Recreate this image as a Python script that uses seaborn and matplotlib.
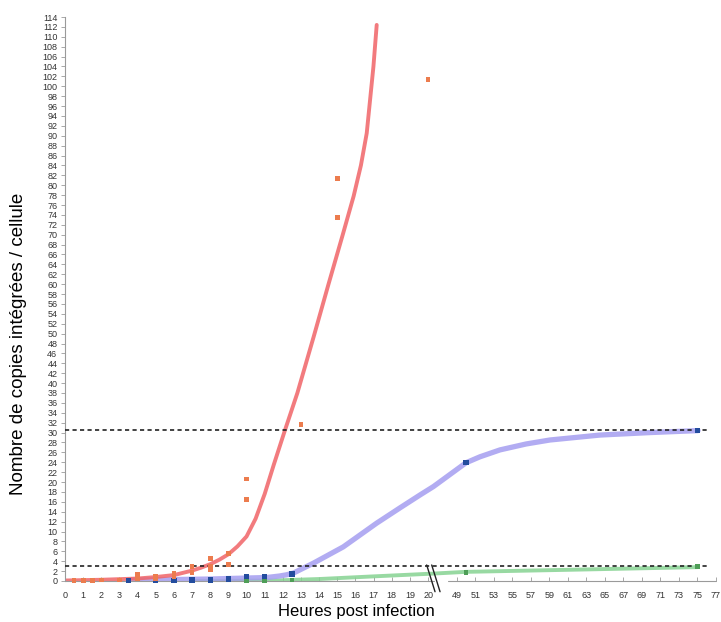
import numpy as np
import pandas as pd
import matplotlib
matplotlib.use("Agg")
import matplotlib.pyplot as plt
import seaborn as sns

# ---------------- data ----------------
orange_hours = [0.5, 1, 1.5, 2, 3, 4, 4, 5, 5, 6, 6, 7, 7, 8, 8, 8, 9, 9, 10, 10, 13, 15, 15, 20]
orange_copies = [0.1, 0.1, 0.15, 0.2, 0.2, 1.3, 0.4, 1.0, 0.4, 1.6, 0.9, 2.9, 1.8, 4.6, 3.0, 2.3,
                 5.5, 3.4, 20.6, 16.5, 31.7, 81.3, 73.4, 101.3]

blue_hours = [3.5, 5, 6, 7, 8, 9, 10, 11, 12.5, 50, 75]
blue_copies = [0.1, 0.1, 0.1, 0.2, 0.2, 0.4, 0.9, 0.9, 1.4, 23.9, 30.4]

green_hours = [10, 11, 12.5, 50, 75]
green_copies = [0.1, 0.1, 0.2, 1.75, 2.9]

red_fit_hours = [0, 2, 4, 5, 6, 7, 7.5, 8, 8.5, 9, 9.5, 10.0, 10.5, 11.0, 11.5, 12.1, 12.8,
                 13.7, 14.5, 15.3, 15.9, 16.3, 16.62, 16.99, 17.17]
red_fit_copies = [0.1, 0.25, 0.5, 0.8, 1.2, 2.1, 2.7, 3.4, 4.3, 5.4, 7.0, 9.0, 12.6, 17.6, 23.5,
                  30.3, 38.0, 49.4, 59.8, 70.0, 77.8, 84.0, 90.5, 104.0, 112.4]

blue_fit_hours = [3.5, 6, 8, 10, 11.1, 11.8, 12.2, 12.58, 13.68, 15.33, 17.17, 18.46, 19.56, 20.3,
                  50, 51.5, 53.67, 56.5, 59.06, 64.46, 69.85, 75.06]
blue_fit_copies = [0.2, 0.3, 0.4, 0.6, 0.7, 1.0, 1.25, 1.6, 3.6, 6.9, 11.7, 14.8, 17.4, 19.1,
                   23.9, 25.1, 26.5, 27.7, 28.5, 29.5, 30.0, 30.4]

green_fit_hours = [7, 11.5, 14, 16.8, 20.3, 50, 62, 75]
green_fit_copies = [0.0, 0.1, 0.4, 0.9, 1.5, 1.85, 2.3, 2.8]

threshold_levels = [30.5, 3.1]

x_ticks = list(range(0, 21)) + list(range(49, 78, 2))
x_tick_labels = [str(t) for t in x_ticks]
y_ticks = list(range(0, 115, 2))
y_tick_labels = [str(t) for t in y_ticks]

x_label = "Heures post infection"
y_label = "Nombre de copies intégrées / cellule"

# ---------------- style ----------------
sns.set_theme(style="white")
plt.rcParams["font.family"] = ["Liberation Sans", "DejaVu Sans"]

fig = plt.figure(figsize=(7.21, 6.22), dpi=100)
fig.patch.set_facecolor("white")
W, H = 721, 622
ax = fig.add_axes([65 / W, 41 / H, 651 / W, 564 / H])
ax.set_facecolor("white")

# broken x axis: 0-20.3 at full scale, 48-77 at about half scale
BRK_X = [-1000.0, 20.3, 48.0, 1000.0]
BRK_T = [-1000.0, 20.3, 21.07, 21.07 + (1000.0 - 48.0) * 0.51]


def fwd(x):
    return np.interp(np.asarray(x, dtype=float), BRK_X, BRK_T)


def inv(t):
    return np.interp(np.asarray(t, dtype=float), BRK_T, BRK_X)


ax.set_xscale("function", functions=(fwd, inv))
ax.set_xlim(0, 77)
ax.set_ylim(0, 114)

# ---------------- fitted curves ----------------
sns.lineplot(x=green_fit_hours, y=green_fit_copies, sort=False, estimator=None,
             color="#86d392", lw=2.8, alpha=0.85, ax=ax)
sns.lineplot(x=blue_fit_hours, y=blue_fit_copies, sort=False, estimator=None,
             color="#a59ef0", lw=3.8, alpha=0.85, ax=ax)
sns.lineplot(x=red_fit_hours, y=red_fit_copies, sort=False, estimator=None,
             color="#f06468", lw=2.8, alpha=0.85, ax=ax)
for ln in ax.get_lines():
    ln.set_solid_joinstyle("round")
    ln.set_solid_capstyle("round")

# threshold lines
ax.hlines(threshold_levels, 0, 76, colors="#222222", linestyles=(0, (2.5, 2)), lw=1.2, zorder=3)

# ---------------- measured points ----------------
sns.scatterplot(x=green_hours, y=green_copies, marker="s", s=12, color="#4e9e57",
                edgecolor="none", ax=ax, zorder=5, clip_on=False)
sns.scatterplot(x=blue_hours, y=blue_copies, marker="s", s=14, color="#234c9e",
                edgecolor="none", ax=ax, zorder=5, clip_on=False)
sns.scatterplot(x=orange_hours, y=orange_copies, marker="s", s=12, color="#ec7c4e",
                edgecolor="none", ax=ax, zorder=6, clip_on=False)

# ---------------- axes decoration ----------------
for side in ("top", "right", "bottom"):
    ax.spines[side].set_visible(False)
ax.spines["left"].set_color("#9a9a9a")
ax.spines["left"].set_linewidth(0.8)

# two x-axis segments either side of the break
ax.plot([0, 20.3], [0, 0], color="#9a9a9a", lw=0.8, clip_on=False, zorder=2)
ax.plot([48, 77], [0, 0], color="#9a9a9a", lw=0.8, clip_on=False, zorder=2)

# break marks
for x0 in (0.5556, 0.5633):
    ax.plot([x0, x0 + 0.0128], [0.0284, -0.019], color="#222222", lw=1.0,
            transform=ax.transAxes, clip_on=False, zorder=7)

ax.set_xticks(x_ticks)
ax.set_xticklabels(x_tick_labels)
ax.set_yticks(y_ticks)
ax.set_yticklabels(y_tick_labels)
ax.minorticks_off()
ax.tick_params(axis="x", direction="in", length=3, width=0.6, color="#9a9a9a",
               labelsize=6.5, labelcolor="#333333", pad=7, bottom=True)
ax.tick_params(axis="y", direction="out", length=3, width=0.6, color="#9a9a9a",
               labelsize=6.5, labelcolor="#333333", pad=2.5, left=True)

ax.set_xlabel(x_label, fontsize=12, color="black")
ax.xaxis.set_label_coords((356 - 65) / 651, (581 - 604) / 564)
ax.set_ylabel(y_label, fontsize=13.5, color="black")
ax.yaxis.set_label_coords((27 - 65) / 651, (581 - 344) / 564)

fig.savefig("out.png", dpi=100, facecolor="white")
